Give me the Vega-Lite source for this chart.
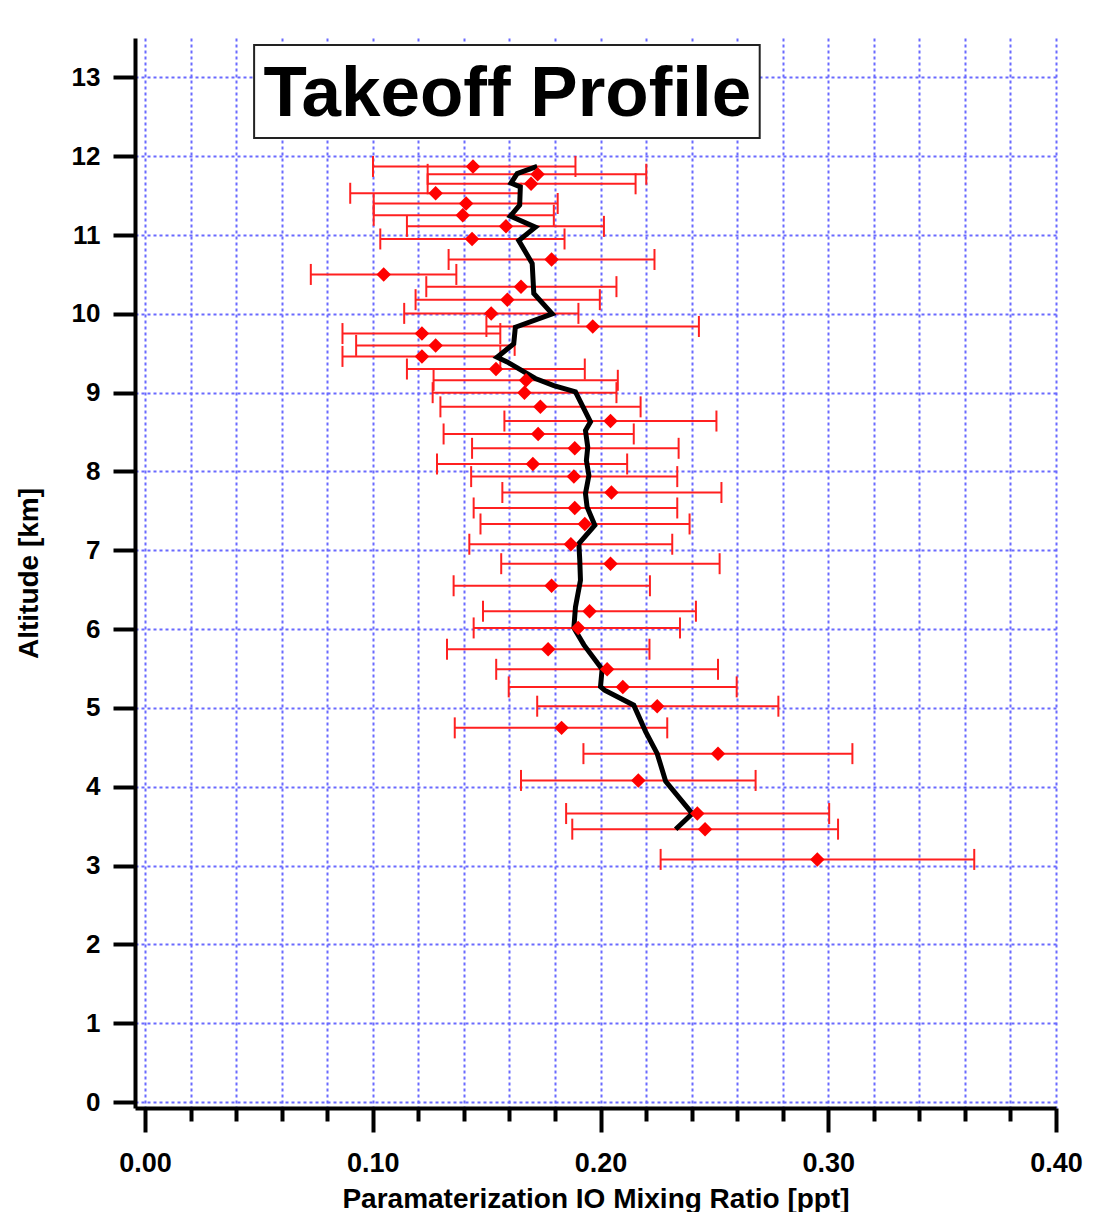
{
  "$schema": "https://vega.github.io/schema/vega-lite/v6.json",
  "width": 921,
  "height": 1070,
  "autosize": {"type": "none"},
  "padding": {"left": 135, "top": 38, "right": 57, "bottom": 104},
  "background": "white",
  "resolve": {"axis": {"x": "independent", "y": "independent"}},
  "config": {
    "view": {"stroke": null},
    "font": "Liberation Sans",
    "axis": {
      "grid": true,
      "gridColor": "#6a6aff",
      "gridDash": [3, 3],
      "gridWidth": 2,
      "domainColor": "black",
      "domainWidth": 4,
      "tickColor": "black",
      "tickWidth": 4,
      "labelFont": "Liberation Sans",
      "labelFontWeight": "bold",
      "labelColor": "black",
      "labelOverlap": false,
      "labelFlush": false,
      "titleFont": "Liberation Sans",
      "titleFontWeight": "bold",
      "titleColor": "black",
      "titleFontSize": 28
    }
  },
  "datasets": {
    "points": [
      {"alt": 11.87, "io": 0.1440, "lo": 0.1001, "hi": 0.1890},
      {"alt": 11.77, "io": 0.1724, "lo": 0.1241, "hi": 0.2201},
      {"alt": 11.65, "io": 0.1695, "lo": 0.1241, "hi": 0.2154},
      {"alt": 11.53, "io": 0.1276, "lo": 0.0901, "hi": 0.1651},
      {"alt": 11.40, "io": 0.1410, "lo": 0.1004, "hi": 0.1812},
      {"alt": 11.25, "io": 0.1395, "lo": 0.1004, "hi": 0.1795},
      {"alt": 11.11, "io": 0.1585, "lo": 0.1150, "hi": 0.2015},
      {"alt": 10.95, "io": 0.1436, "lo": 0.1033, "hi": 0.1842},
      {"alt": 10.69, "io": 0.1785, "lo": 0.1333, "hi": 0.2237},
      {"alt": 10.50, "io": 0.1048, "lo": 0.0728, "hi": 0.1367},
      {"alt": 10.345, "io": 0.1651, "lo": 0.1235, "hi": 0.2070},
      {"alt": 10.18, "io": 0.1591, "lo": 0.1188, "hi": 0.1997},
      {"alt": 10.006, "io": 0.1520, "lo": 0.1138, "hi": 0.1903},
      {"alt": 9.84, "io": 0.1966, "lo": 0.1499, "hi": 0.2432},
      {"alt": 9.75, "io": 0.1216, "lo": 0.0867, "hi": 0.1560},
      {"alt": 9.60, "io": 0.1276, "lo": 0.0927, "hi": 0.1623},
      {"alt": 9.46, "io": 0.1216, "lo": 0.0867, "hi": 0.1560},
      {"alt": 9.30, "io": 0.1541, "lo": 0.1150, "hi": 0.1931},
      {"alt": 9.157, "io": 0.1673, "lo": 0.1267, "hi": 0.2076},
      {"alt": 9.00, "io": 0.1666, "lo": 0.1263, "hi": 0.2070},
      {"alt": 8.82, "io": 0.1736, "lo": 0.1297, "hi": 0.2176},
      {"alt": 8.64, "io": 0.2044, "lo": 0.1578, "hi": 0.2509},
      {"alt": 8.476, "io": 0.1726, "lo": 0.1311, "hi": 0.2146},
      {"alt": 8.294, "io": 0.1887, "lo": 0.1436, "hi": 0.2343},
      {"alt": 8.095, "io": 0.1703, "lo": 0.1282, "hi": 0.2117},
      {"alt": 7.935, "io": 0.1883, "lo": 0.1432, "hi": 0.2337},
      {"alt": 7.733, "io": 0.2048, "lo": 0.1569, "hi": 0.2531},
      {"alt": 7.537, "io": 0.1887, "lo": 0.1443, "hi": 0.2337},
      {"alt": 7.334, "io": 0.1931, "lo": 0.1473, "hi": 0.2391},
      {"alt": 7.077, "io": 0.1870, "lo": 0.1424, "hi": 0.2315},
      {"alt": 6.83, "io": 0.2044, "lo": 0.1564, "hi": 0.2523},
      {"alt": 6.55, "io": 0.1785, "lo": 0.1355, "hi": 0.2217},
      {"alt": 6.227, "io": 0.1952, "lo": 0.1484, "hi": 0.2419},
      {"alt": 6.015, "io": 0.1902, "lo": 0.1443, "hi": 0.2349},
      {"alt": 5.745, "io": 0.1770, "lo": 0.1326, "hi": 0.2215},
      {"alt": 5.49, "io": 0.2029, "lo": 0.1542, "hi": 0.2516},
      {"alt": 5.267, "io": 0.2098, "lo": 0.1597, "hi": 0.2598},
      {"alt": 5.022, "io": 0.2249, "lo": 0.1722, "hi": 0.2781},
      {"alt": 4.747, "io": 0.1829, "lo": 0.1360, "hi": 0.2293},
      {"alt": 4.42, "io": 0.2516, "lo": 0.1925, "hi": 0.3106},
      {"alt": 4.08, "io": 0.2166, "lo": 0.1651, "hi": 0.2681},
      {"alt": 3.66, "io": 0.2425, "lo": 0.1849, "hi": 0.3004},
      {"alt": 3.462, "io": 0.2459, "lo": 0.1876, "hi": 0.3043},
      {"alt": 3.078, "io": 0.2952, "lo": 0.2264, "hi": 0.3641}
    ],
    "profile": [
      {"alt": 3.46, "io": 0.2330},
      {"alt": 3.66, "io": 0.2403},
      {"alt": 4.07, "io": 0.2286},
      {"alt": 4.42, "io": 0.2249},
      {"alt": 4.70, "io": 0.2198},
      {"alt": 5.035, "io": 0.2146},
      {"alt": 5.225, "io": 0.2018},
      {"alt": 5.27, "io": 0.2000},
      {"alt": 5.49, "io": 0.2007},
      {"alt": 5.80, "io": 0.1927},
      {"alt": 6.015, "io": 0.1883},
      {"alt": 6.28, "io": 0.1890},
      {"alt": 6.62, "io": 0.1912},
      {"alt": 6.87, "io": 0.1909},
      {"alt": 7.085, "io": 0.1905},
      {"alt": 7.318, "io": 0.1975},
      {"alt": 7.55, "io": 0.1941},
      {"alt": 7.72, "io": 0.1934},
      {"alt": 7.95, "io": 0.1949},
      {"alt": 8.14, "io": 0.1938},
      {"alt": 8.31, "io": 0.1944},
      {"alt": 8.52, "io": 0.1934},
      {"alt": 8.63, "io": 0.1956},
      {"alt": 9.01, "io": 0.1890},
      {"alt": 9.09, "io": 0.1795},
      {"alt": 9.18, "io": 0.1714},
      {"alt": 9.39, "io": 0.1590},
      {"alt": 9.45, "io": 0.1546},
      {"alt": 9.62, "io": 0.1619},
      {"alt": 9.83, "io": 0.1626},
      {"alt": 10.0, "io": 0.1788},
      {"alt": 10.26, "io": 0.1707},
      {"alt": 10.64, "io": 0.1700},
      {"alt": 10.93, "io": 0.1641},
      {"alt": 11.10, "io": 0.1714},
      {"alt": 11.24, "io": 0.1604},
      {"alt": 11.38, "io": 0.1645},
      {"alt": 11.61, "io": 0.1648},
      {"alt": 11.66, "io": 0.1607},
      {"alt": 11.78, "io": 0.1634},
      {"alt": 11.87, "io": 0.1722}
    ]
  },
  "layer": [
    {
      "data": {"name": "points"},
      "mark": {"type": "rule", "color": "#ff2020", "strokeWidth": 2},
      "encoding": {
        "x": {
          "field": "lo",
          "type": "quantitative",
          "scale": {"domain": [-0.0044, 0.4], "nice": false, "zero": false},
          "title": "Paramaterization IO Mixing Ratio [ppt]",
          "axis": {
            "orient": "bottom",
            "values": [0, 0.02, 0.04, 0.06, 0.08, 0.1, 0.12, 0.14, 0.16, 0.18, 0.2, 0.22, 0.24, 0.26, 0.28, 0.3, 0.32, 0.34, 0.36, 0.38, 0.4],
            "tickSize": {"condition": {"test": "abs(datum.value*10 - round(datum.value*10)) < 0.01", "value": 24}, "value": 13},
            "labelExpr": "abs(datum.value*10 - round(datum.value*10)) < 0.01 ? format(datum.value, '.2f') : ''",
            "labelFontSize": 27,
            "labelPadding": 18,
            "titlePadding": 9
          }
        },
        "x2": {"field": "hi"},
        "y": {
          "field": "alt",
          "type": "quantitative",
          "scale": {"domain": [-0.076, 13.5], "nice": false, "zero": false},
          "title": "Altitude [km]",
          "axis": {
            "orient": "left",
            "values": [0, 1, 2, 3, 4, 5, 6, 7, 8, 9, 10, 11, 12, 13],
            "tickSize": 22,
            "labelFontSize": 26,
            "labelPadding": 13,
            "titlePadding": 28
          }
        }
      }
    },
    {
      "data": {"name": "points"},
      "mark": {"type": "tick", "orient": "vertical", "size": 21, "thickness": 2, "color": "#ff2020", "opacity": 1},
      "encoding": {
        "x": {"field": "lo", "type": "quantitative", "axis": null},
        "y": {"field": "alt", "type": "quantitative", "axis": null}
      }
    },
    {
      "data": {"name": "points"},
      "mark": {"type": "tick", "orient": "vertical", "size": 21, "thickness": 2, "color": "#ff2020", "opacity": 1},
      "encoding": {
        "x": {"field": "hi", "type": "quantitative", "axis": null},
        "y": {"field": "alt", "type": "quantitative", "axis": null}
      }
    },
    {
      "data": {"name": "profile"},
      "mark": {"type": "line", "color": "black", "strokeWidth": 5},
      "encoding": {
        "x": {"field": "io", "type": "quantitative", "axis": null},
        "y": {"field": "alt", "type": "quantitative", "axis": null},
        "order": {"field": "alt", "type": "quantitative"}
      }
    },
    {
      "data": {"name": "points"},
      "mark": {"type": "point", "shape": "diamond", "filled": true, "color": "#ff0000", "size": 210, "opacity": 1},
      "encoding": {
        "x": {"field": "io", "type": "quantitative", "axis": null},
        "y": {"field": "alt", "type": "quantitative", "axis": null}
      }
    },
    {
      "data": {"values": [{"label": "Takeoff Profile"}]},
      "mark": {"type": "rect", "fill": "white", "stroke": "#222222", "strokeWidth": 2},
      "encoding": {
        "x": {"datum": 0.0479, "type": "quantitative", "axis": null},
        "x2": {"datum": 0.2699},
        "y": {"datum": 13.41, "type": "quantitative", "axis": null},
        "y2": {"datum": 12.23}
      }
    },
    {
      "data": {"values": [{"label": "Takeoff Profile"}]},
      "mark": {"type": "text", "fontSize": 71, "fontWeight": "bold", "font": "Liberation Sans", "color": "black", "align": "center", "baseline": "alphabetic"},
      "encoding": {
        "x": {"datum": 0.1591, "type": "quantitative", "axis": null},
        "y": {"datum": 12.51, "type": "quantitative", "axis": null},
        "text": {"field": "label"}
      }
    }
  ]
}
